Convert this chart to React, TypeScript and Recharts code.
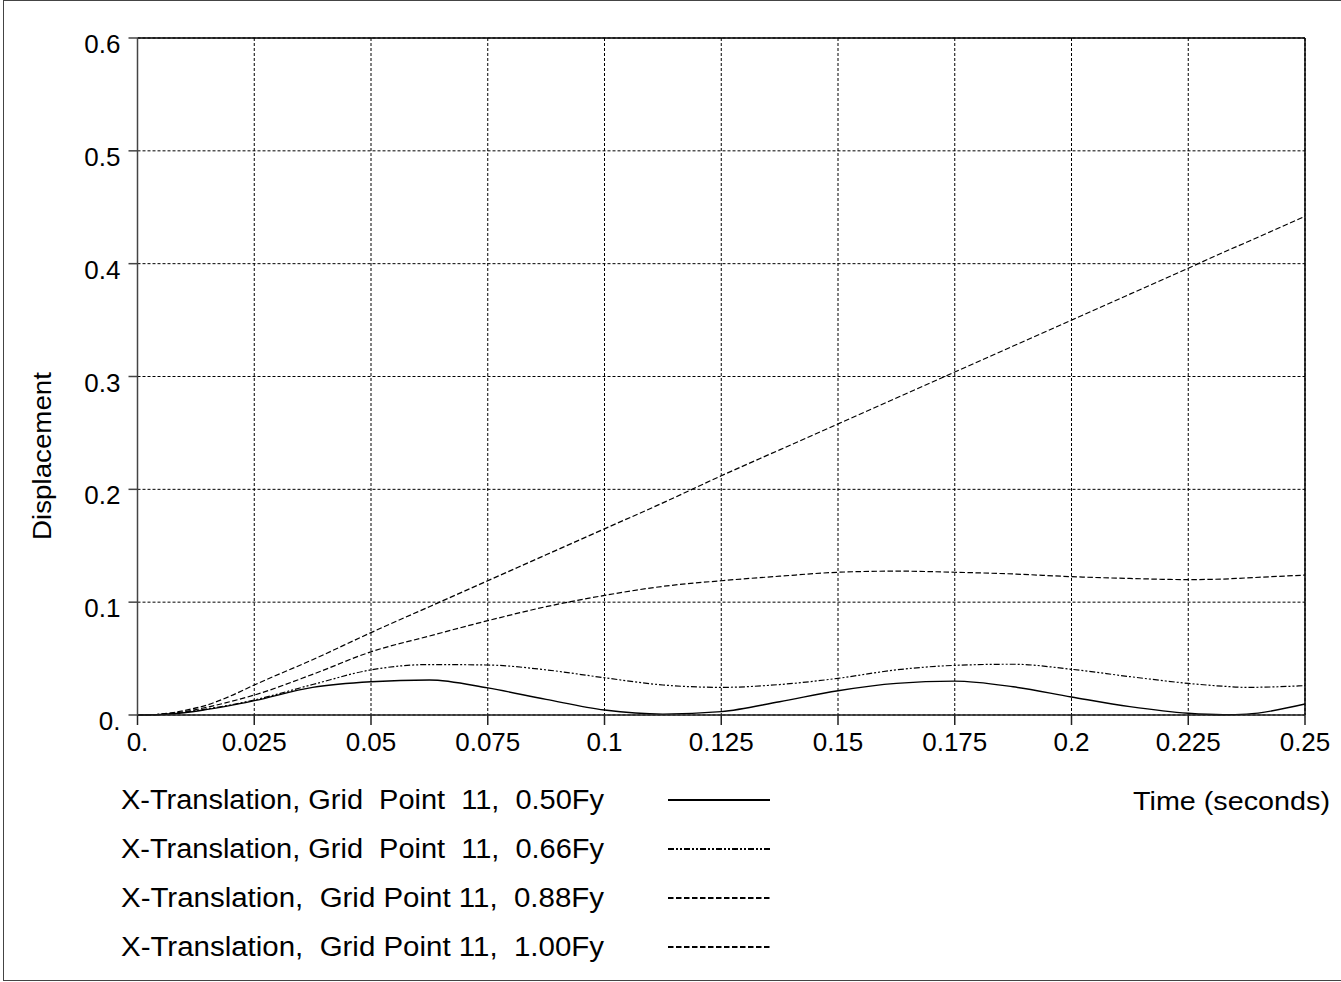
import { CartesianGrid, Line, LineChart, ReferenceLine, XAxis, YAxis } from 'recharts'

const times = [0, 0.005, 0.01, 0.015, 0.02, 0.025, 0.0375, 0.05, 0.0625, 0.075, 0.0875, 0.1, 0.1125, 0.125, 0.1375, 0.15, 0.1625, 0.175, 0.1875, 0.2, 0.2125, 0.225, 0.2325, 0.2375, 0.25]
const fy050 = [0, 0.0005, 0.002, 0.005, 0.0085, 0.0127, 0.0245, 0.0295, 0.031, 0.024, 0.0138, 0.0044, 0.0008, 0.003, 0.0118, 0.0215, 0.028, 0.03, 0.025, 0.016, 0.0074, 0.0015, 0.0002, 0.0008, 0.0097]
const fy066 = [0, 0.0006, 0.0025, 0.0055, 0.009, 0.0133, 0.027, 0.04, 0.0447, 0.0443, 0.04, 0.033, 0.0266, 0.0245, 0.027, 0.0325, 0.04, 0.044, 0.045, 0.0405, 0.034, 0.028, 0.0255, 0.0245, 0.026]
const fy088 = [0, 0.0007, 0.003, 0.007, 0.012, 0.0177, 0.036, 0.056, 0.07, 0.0836, 0.096, 0.106, 0.114, 0.119, 0.123, 0.1265, 0.1275, 0.1265, 0.125, 0.1226, 0.121, 0.12, 0.1205, 0.1215, 0.124]
const fy100 = [0, 0.0008, 0.004, 0.009, 0.017, 0.0266, 0.049, 0.073, 0.096, 0.119, 0.142, 0.165, 0.188, 0.212, 0.235, 0.258, 0.281, 0.304, 0.327, 0.35, 0.373, 0.396, 0.41, 0.419, 0.442]

const xTicks = [0, 0.025, 0.05, 0.075, 0.1, 0.125, 0.15, 0.175, 0.2, 0.225, 0.25]
const xLabels = ['0.', '0.025', '0.05', '0.075', '0.1', '0.125', '0.15', '0.175', '0.2', '0.225', '0.25']
const yTicks = [0, 0.1, 0.2, 0.3, 0.4, 0.5, 0.6]
const yLabels = ['0.', '0.1', '0.2', '0.3', '0.4', '0.5', '0.6']

const legendNames = [
  'X-Translation, Grid  Point  11,  0.50Fy',
  'X-Translation, Grid  Point  11,  0.66Fy',
  'X-Translation,  Grid Point 11,  0.88Fy',
  'X-Translation,  Grid Point 11,  1.00Fy',
]

const data = times.map((t, i) => ({ t, a: fy050[i], b: fy066[i], c: fy088[i], d: fy100[i] }))

const font = '"Liberation Sans", Arial, sans-serif'
const dashes = ['', '6 2 2 2 2 2', '5.5 2.5', '5.5 2.5']

const XTick = (props: any) => {
  const { x, y, payload, index } = props
  return (
    <text x={x} y={y} dy={24} textAnchor="middle" fontSize={26} fontFamily={font} fill="#000">
      {xLabels[index] ?? String(payload.value)}
    </text>
  )
}

const YTick = (props: any) => {
  const { x, y, payload, index } = props
  return (
    <text x={x} y={y} dy={15} textAnchor="end" fontSize={26} fontFamily={font} fill="#000">
      {yLabels[index] ?? String(payload.value)}
    </text>
  )
}

export default function App() {
  return (
    <div style={{ position: 'absolute', left: 0, top: 0, width: 1341, height: 982, overflow: 'hidden', background: '#fff' }}>
      <div style={{ position: 'absolute', left: 3, top: 0, width: 1400, height: 979, border: '1.5px solid #444' }} />
      <LineChart width={1341} height={982} data={data} margin={{ top: 38, right: 36, bottom: 227, left: 0 }}>
        <CartesianGrid stroke="#000" strokeDasharray="3 2" strokeWidth={1} />
        <XAxis
          dataKey="t"
          type="number"
          domain={[0, 0.25]}
          ticks={xTicks}
          interval={0}
          height={40}
          tickSize={10}
          tick={XTick}
          stroke="#222"
          strokeWidth={1.5}
        />
        <YAxis
          type="number"
          domain={[0, 0.6]}
          ticks={yTicks}
          interval={0}
          width={137.5}
          tickSize={9}
          tickMargin={8}
          tick={YTick}
          stroke="#444"
          strokeWidth={1.5}
        />
        <ReferenceLine y={0.6} stroke="#000" strokeWidth={1.5} />
        <ReferenceLine x={0.25} stroke="#000" strokeWidth={1.5} />
        <Line dataKey="a" type="monotone" stroke="#000" strokeWidth={1.4} dot={false} isAnimationActive={false} />
        <Line dataKey="b" type="monotone" stroke="#000" strokeWidth={1.2} strokeDasharray={dashes[1]} dot={false} isAnimationActive={false} />
        <Line dataKey="c" type="monotone" stroke="#000" strokeWidth={1.2} strokeDasharray={dashes[2]} dot={false} isAnimationActive={false} />
        <Line dataKey="d" type="monotone" stroke="#000" strokeWidth={1.2} strokeDasharray={dashes[3]} dot={false} isAnimationActive={false} />
      </LineChart>
      <svg width={1341} height={982} style={{ position: 'absolute', left: 0, top: 0, pointerEvents: 'none' }}>
        <text
          x={0}
          y={0}
          transform="translate(51 456) rotate(-90)"
          textAnchor="middle"
          fontSize={26}
          fontFamily={font}
          textLength={168}
          lengthAdjust="spacingAndGlyphs"
        >
          Displacement
        </text>
        <text x={1133} y={810} fontSize={26} fontFamily={font} textLength={197} lengthAdjust="spacingAndGlyphs">
          Time (seconds)
        </text>
        {legendNames.map((name, i) => (
          <g key={name}>
            <text
              x={121}
              y={809 + i * 49}
              fontSize={27}
              fontFamily={font}
              textLength={483}
              lengthAdjust="spacingAndGlyphs"
              style={{ whiteSpace: 'pre' }}
            >
              {name}
            </text>
            <line
              x1={668}
              x2={770}
              y1={800 + i * 49}
              y2={800 + i * 49}
              stroke="#000"
              strokeWidth={2}
              strokeDasharray={dashes[i] || undefined}
            />
          </g>
        ))}
      </svg>
    </div>
  )
}
